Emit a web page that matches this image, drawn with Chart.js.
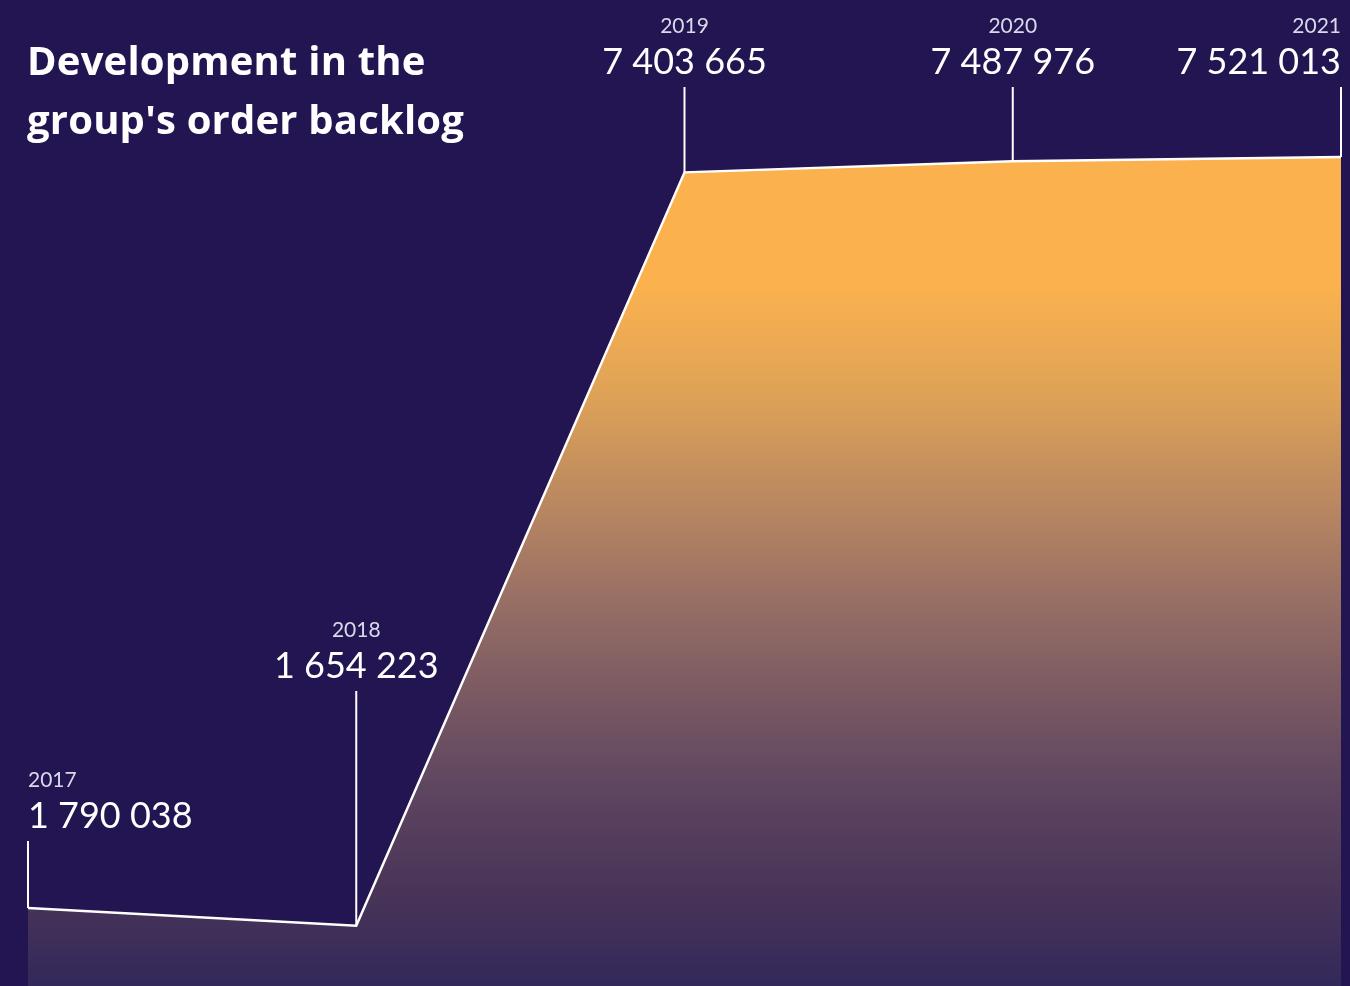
<!DOCTYPE html>
<html>
<head>
<meta charset="utf-8">
<script src="https://cdn.jsdelivr.net/npm/chart.js@4"></script>
<style>
  html, body { margin: 0; padding: 0; background: #221551; }
  #wrap { position: relative; width: 1350px; height: 986px; }
  #title {
    position: absolute; left: 27px; top: 30px;
    font-family: "Open Sans", sans-serif; font-weight: 700; font-size: 40px;
    line-height: 59px; color: #ffffff; letter-spacing: 0.2px;
  }
</style>
</head>
<body>
<div id="wrap">
  <canvas id="chart" width="1350" height="986"></canvas>
  <div id="title">Development in the<br>group's order backlog</div>
</div>
<script>
// data
const years = ["2017", "2018", "2019", "2020", "2021"];
const backlog = [1790038, 1654223, 7403665, 7487976, 7521013];

// label layout (top of the year text, alignment)
const labelTop = [770, 620, 16, 16, 16];
const labelAlign = ["left", "center", "center", "center", "right"];

const fmt = (v) => v.toString().replace(/\B(?=(\d{3})+(?!\d))/g, " ");

// draws year + value and the leader line above each point
const valueLabels = {
  id: "valueLabels",
  afterDatasetsDraw(chart) {
    const ctx = chart.ctx;
    const meta = chart.getDatasetMeta(0);
    ctx.save();
    meta.data.forEach((pt, i) => {
      const top = labelTop[i];
      ctx.textAlign = labelAlign[i];
      ctx.textBaseline = "middle";
      ctx.fillStyle = "#dcd8ea";
      ctx.font = "400 21px Lato, sans-serif";
      ctx.fillText(years[i], pt.x, top + 10);
      ctx.fillStyle = "#ffffff";
      ctx.font = "400 36px Lato, sans-serif";
      ctx.fillText(fmt(backlog[i]), pt.x, top + 46);
      ctx.strokeStyle = "#ffffff";
      ctx.lineWidth = 2;
      ctx.beginPath();
      ctx.moveTo(pt.x, top + 71);
      ctx.lineTo(pt.x, pt.y);
      ctx.stroke();
    });
    ctx.restore();
  }
};

const ctx = document.getElementById("chart").getContext("2d");
new Chart(ctx, {
  type: "line",
  data: {
    labels: years,
    datasets: [{
      data: backlog,
      borderColor: "#ffffff",
      borderWidth: 2.5,
      borderJoinStyle: "miter",
      tension: 0,
      pointRadius: 0,
      fill: "start",
      backgroundColor: (c) => {
        const area = c.chart.chartArea;
        if (!area) return "#fbb24e";
        const g = c.chart.ctx.createLinearGradient(0, area.top, 0, area.bottom);
        g.addColorStop(0, "#fbb24e");
        g.addColorStop(0.29, "#fbb24e");
        g.addColorStop(0.40, "#dea257");
        g.addColorStop(0.50, "#bd8a60");
        g.addColorStop(0.60, "#9a7165");
        g.addColorStop(0.70, "#7b5a62");
        g.addColorStop(0.80, "#5e4560");
        g.addColorStop(0.90, "#4a3558");
        g.addColorStop(1, "#33285a");
        return g;
      }
    }]
  },
  options: {
    responsive: false,
    animation: false,
    layout: { padding: { left: 28, right: 9, top: 0, bottom: 0 } },
    plugins: {
      legend: { display: false },
      tooltip: { enabled: false }
    },
    scales: {
      x: { display: false, offset: false },
      y: { display: false, min: 1195000, max: 8719000 }
    }
  },
  plugins: [valueLabels]
});
</script>
</body>
</html>
